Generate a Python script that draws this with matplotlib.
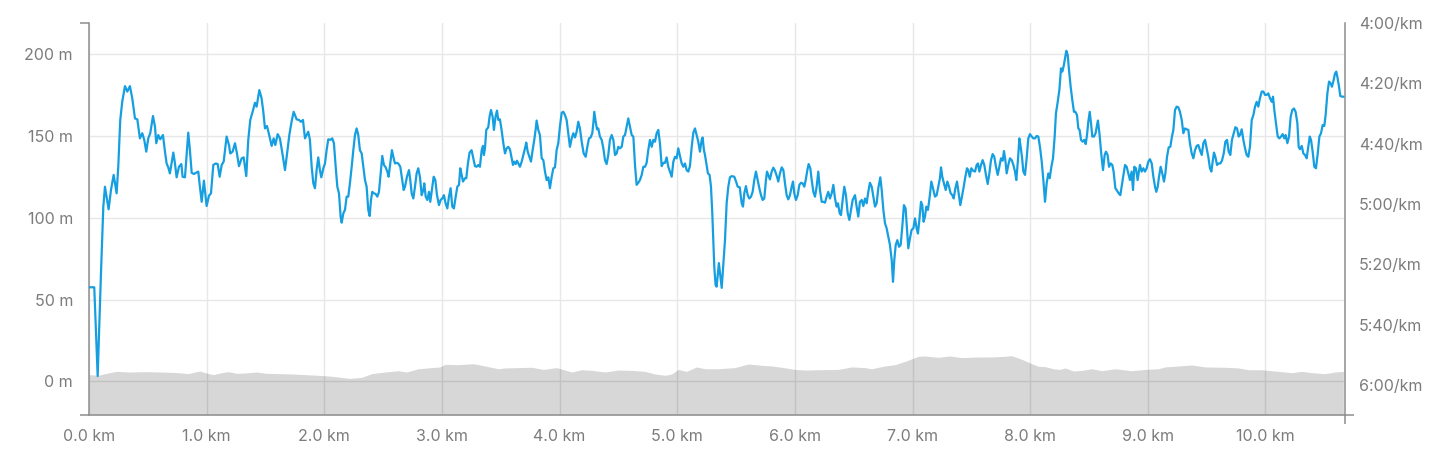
import numpy as np
import matplotlib
matplotlib.use("Agg")
import matplotlib.pyplot as plt
from matplotlib.ticker import FuncFormatter

plt.rcParams['font.family'] = ['Inter', 'DejaVu Sans']

# pace line: distance (m) and pace (seconds per km)
pace_dist = [
    0, 45, 74, 102, 122, 136, 150, 167, 187, 210, 235, 249, 266, 283, 306, 326, 348, 368, 391, 411,
    433, 453, 470, 487, 504, 521, 544, 561, 572, 589, 606, 629, 646, 660, 674, 688, 717, 731, 745, 765,
    785, 796, 816, 830, 844, 858, 873, 892, 909, 929, 943, 958, 977, 1000, 1020, 1037, 1057, 1077, 1094, 1111,
    1128, 1145, 1170, 1190, 1201, 1221, 1241, 1258, 1275, 1298, 1315, 1337, 1354, 1371, 1391, 1411, 1425, 1448, 1467, 1482,
    1496, 1513, 1530, 1553, 1570, 1584, 1604, 1623, 1643, 1666, 1686, 1703, 1722, 1740, 1765, 1785, 1802, 1819, 1836, 1850,
    1864, 1878, 1893, 1907, 1921, 1935, 1949, 1963, 1975, 1992, 2006, 2020, 2034, 2051, 2068, 2082, 2097, 2111, 2125, 2139,
    2148, 2162, 2176, 2190, 2204, 2218, 2233, 2247, 2261, 2275, 2289, 2303, 2318, 2332, 2346, 2360, 2374, 2386, 2397, 2408,
    2422, 2437, 2451, 2465, 2479, 2493, 2507, 2522, 2536, 2547, 2561, 2575, 2590, 2601, 2615, 2629, 2646, 2663, 2675, 2686,
    2703, 2720, 2731, 2743, 2757, 2771, 2785, 2799, 2813, 2828, 2842, 2850, 2862, 2876, 2890, 2901, 2915, 2930, 2944, 2958,
    2975, 2989, 3003, 3017, 3031, 3046, 3060, 3074, 3088, 3102, 3117, 3131, 3145, 3156, 3168, 3179, 3196, 3207, 3221, 3235,
    3252, 3267, 3281, 3295, 3309, 3323, 3338, 3349, 3357, 3366, 3377, 3394, 3405, 3417, 3431, 3442, 3456, 3468, 3479, 3493,
    3507, 3522, 3536, 3550, 3564, 3578, 3593, 3604, 3615, 3627, 3638, 3649, 3663, 3678, 3692, 3706, 3717, 3729, 3743, 3757,
    3771, 3785, 3797, 3805, 3819, 3833, 3848, 3862, 3876, 3890, 3904, 3918, 3933, 3947, 3961, 3975, 3989, 4003, 4018, 4032,
    4046, 4060, 4074, 4088, 4103, 4117, 4131, 4145, 4159, 4173, 4188, 4205, 4222, 4236, 4250, 4264, 4278, 4287, 4295, 4307,
    4318, 4329, 4343, 4358, 4372, 4386, 4400, 4414, 4428, 4443, 4457, 4471, 4485, 4499, 4513, 4528, 4542, 4556, 4570, 4584,
    4598, 4613, 4627, 4641, 4655, 4669, 4683, 4698, 4712, 4726, 4740, 4754, 4768, 4783, 4797, 4811, 4825, 4839, 4853, 4868,
    4882, 4896, 4910, 4924, 4938, 4953, 4967, 4981, 4995, 5009, 5023, 5038, 5052, 5066, 5080, 5094, 5108, 5123, 5137, 5151,
    5165, 5179, 5193, 5208, 5216, 5227, 5236, 5250, 5261, 5275, 5287, 5298, 5307, 5315, 5326, 5335, 5354, 5378, 5406, 5420,
    5434, 5448, 5463, 5485, 5500, 5514, 5531, 5548, 5559, 5570, 5584, 5599, 5613, 5627, 5641, 5655, 5669, 5684, 5698, 5712,
    5726, 5740, 5754, 5763, 5774, 5788, 5803, 5817, 5831, 5848, 5859, 5873, 5888, 5902, 5916, 5930, 5944, 5958, 5973, 5984,
    5995, 6009, 6024, 6038, 6052, 6066, 6080, 6092, 6106, 6117, 6131, 6143, 6157, 6171, 6185, 6199, 6213, 6228, 6242, 6256,
    6270, 6284, 6298, 6313, 6327, 6341, 6355, 6366, 6381, 6392, 6406, 6420, 6434, 6449, 6463, 6477, 6491, 6511, 6525, 6539,
    6553, 6568, 6582, 6596, 6610, 6624, 6638, 6653, 6667, 6681, 6695, 6709, 6726, 6738, 6752, 6766, 6780, 6794, 6808, 6823,
    6834, 6845, 6857, 6871, 6885, 6899, 6913, 6927, 6941, 6953, 6964, 6978, 6992, 7007, 7021, 7035, 7046, 7058, 7072, 7083,
    7094, 7106, 7117, 7131, 7146, 7160, 7174, 7191, 7205, 7219, 7233, 7242, 7253, 7267, 7282, 7296, 7310, 7324, 7338, 7350,
    7364, 7378, 7392, 7406, 7420, 7435, 7449, 7463, 7474, 7486, 7500, 7514, 7531, 7545, 7556, 7568, 7582, 7596, 7610, 7624,
    7639, 7653, 7667, 7681, 7695, 7709, 7724, 7738, 7752, 7766, 7777, 7789, 7800, 7814, 7828, 7843, 7857, 7871, 7882, 7896,
    7908, 7919, 7930, 7942, 7956, 7970, 7984, 7998, 8013, 8027, 8041, 8055, 8069, 8083, 8098, 8112, 8126, 8140, 8154, 8166,
    8180, 8194, 8208, 8219, 8234, 8248, 8262, 8273, 8285, 8296, 8307, 8319, 8330, 8344, 8358, 8372, 8384, 8398, 8409, 8420,
    8432, 8446, 8460, 8472, 8483, 8494, 8506, 8517, 8528, 8542, 8556, 8568, 8576, 8590, 8605, 8619, 8633, 8644, 8658, 8670,
    8684, 8698, 8709, 8724, 8738, 8752, 8766, 8777, 8792, 8806, 8820, 8834, 8848, 8862, 8874, 8885, 8899, 8913, 8933, 8948,
    8962, 8976, 8990, 9004, 9018, 9033, 9047, 9061, 9072, 9084, 9095, 9109, 9123, 9137, 9149, 9163, 9177, 9191, 9205, 9217,
    9231, 9245, 9259, 9273, 9288, 9302, 9316, 9330, 9344, 9358, 9373, 9387, 9401, 9415, 9429, 9443, 9458, 9472, 9486, 9500,
    9514, 9528, 9540, 9551, 9562, 9574, 9588, 9602, 9616, 9630, 9645, 9659, 9673, 9687, 9701, 9715, 9730, 9744, 9758, 9772,
    9783, 9798, 9812, 9826, 9840, 9854, 9868, 9883, 9897, 9911, 9925, 9939, 9953, 9968, 9982, 9996, 10010, 10024, 10038, 10053,
    10064, 10075, 10089, 10104, 10118, 10132, 10146, 10160, 10171, 10186, 10200, 10214, 10228, 10242, 10256, 10271, 10282, 10293, 10308, 10322,
    10336, 10350, 10364, 10376, 10387, 10401, 10415, 10429, 10444, 10458, 10472, 10486, 10500, 10511, 10526, 10540, 10554, 10565, 10579, 10591,
    10602, 10613, 10625, 10636, 10653, 10662,
]
pace_sec = [
    327.6, 327.6, 357.0, 323.0, 300.9, 294.3, 297.6, 301.8, 295.4, 290.4, 296.5, 287.7, 272.2, 266.1, 261.0, 262.8, 261.0, 265.0, 271.7, 272.0,
    278.3, 276.6, 278.8, 282.7, 278.3, 276.6, 270.9, 274.4, 279.9, 277.2, 278.6, 277.2, 282.7, 286.6, 287.9, 289.9, 283.0, 286.6, 291.2, 287.7,
    286.8, 291.0, 291.2, 283.8, 276.4, 282.2, 289.7, 290.1, 289.7, 289.3, 294.3, 299.3, 292.3, 300.7, 297.3, 296.5, 287.1, 286.6, 286.8, 291.0,
    287.1, 286.0, 277.7, 280.5, 283.3, 282.7, 279.9, 283.3, 287.5, 284.9, 284.6, 290.8, 278.8, 272.2, 269.5, 266.5, 267.8, 262.3, 265.0, 269.5,
    275.0, 274.2, 276.9, 280.8, 278.3, 280.5, 276.9, 278.3, 283.0, 288.8, 282.7, 277.2, 272.8, 269.5, 272.0, 272.2, 272.8, 272.2, 278.3, 277.2,
    276.1, 278.8, 287.7, 293.2, 294.8, 288.8, 284.6, 288.8, 291.2, 288.2, 286.6, 282.2, 278.6, 278.8, 278.3, 279.9, 287.7, 294.3, 296.5, 304.2,
    306.2, 303.1, 302.0, 297.6, 297.6, 293.2, 287.7, 282.2, 277.2, 275.0, 277.2, 282.2, 283.3, 287.7, 292.1, 294.3, 302.0, 304.0, 298.7, 296.0,
    296.5, 296.7, 297.6, 296.0, 289.9, 284.1, 287.1, 287.9, 289.3, 291.0, 286.6, 282.2, 284.9, 286.6, 286.4, 286.6, 287.7, 292.1, 295.4, 294.3,
    291.0, 288.8, 292.1, 296.5, 298.2, 294.3, 289.9, 288.2, 291.0, 297.1, 295.4, 293.2, 297.6, 298.7, 296.0, 299.3, 295.4, 291.0, 292.1, 297.1,
    300.4, 298.7, 298.2, 297.1, 299.8, 301.5, 297.6, 294.8, 300.9, 301.5, 297.6, 294.3, 293.7, 288.2, 290.4, 292.6, 291.5, 291.5, 286.6, 283.0,
    282.2, 284.9, 287.5, 287.7, 287.1, 287.7, 282.2, 280.8, 283.8, 281.6, 275.5, 274.6, 271.1, 268.9, 271.1, 275.5, 271.1, 269.1, 272.2, 272.0,
    275.5, 279.9, 283.3, 281.6, 281.1, 281.9, 284.9, 287.1, 286.0, 286.8, 285.7, 286.6, 287.7, 286.0, 283.8, 281.6, 279.7, 282.7, 284.4, 286.0,
    282.2, 278.8, 275.3, 272.4, 275.5, 277.2, 284.9, 285.5, 289.3, 292.1, 291.2, 294.8, 291.0, 288.2, 287.9, 282.2, 279.9, 274.4, 269.8, 269.5,
    270.6, 272.2, 276.6, 281.1, 278.3, 276.6, 278.0, 276.1, 272.8, 275.0, 279.4, 283.3, 284.4, 281.1, 278.3, 278.0, 276.6, 273.3, 269.5, 272.8,
    275.3, 275.0, 277.7, 278.8, 281.6, 285.5, 286.8, 283.8, 278.8, 277.2, 278.8, 283.8, 283.3, 281.1, 281.6, 281.1, 277.7, 277.2, 274.4, 271.7,
    274.4, 277.2, 277.7, 287.1, 293.7, 293.0, 292.1, 290.4, 287.7, 287.7, 286.4, 282.2, 278.8, 281.1, 278.8, 279.4, 276.6, 275.5, 279.9, 287.5,
    286.4, 286.4, 284.6, 287.7, 289.3, 291.0, 286.0, 284.4, 284.9, 281.6, 284.1, 286.6, 287.7, 286.6, 288.8, 289.3, 287.5, 281.1, 276.4, 275.0,
    277.2, 279.4, 282.7, 278.8, 278.0, 282.2, 283.8, 287.1, 289.9, 290.4, 294.3, 303.1, 312.0, 320.8, 326.9, 327.4, 319.6, 327.8, 312.0, 299.8,
    294.3, 291.2, 290.8, 291.0, 292.6, 294.3, 294.5, 299.8, 300.9, 296.5, 294.1, 297.1, 298.2, 297.6, 296.0, 292.1, 289.3, 292.1, 294.8, 297.1,
    298.7, 298.2, 292.1, 289.3, 290.4, 291.9, 289.3, 288.0, 289.0, 291.0, 292.6, 289.9, 287.9, 288.8, 293.2, 297.1, 298.5, 297.1, 294.3, 292.6,
    296.5, 298.7, 297.1, 293.7, 293.0, 293.2, 294.3, 292.1, 288.8, 286.8, 288.2, 292.1, 296.0, 297.6, 294.3, 289.3, 295.4, 299.3, 299.3, 299.6,
    297.6, 296.0, 298.2, 296.5, 293.7, 298.2, 300.9, 299.8, 303.1, 303.7, 298.7, 294.3, 297.1, 303.1, 305.3, 302.0, 298.7, 297.1, 300.9, 304.2,
    299.3, 298.7, 300.7, 298.2, 299.8, 296.0, 293.0, 294.3, 297.6, 300.9, 299.8, 294.8, 291.2, 295.4, 302.0, 306.4, 308.1, 310.8, 313.6, 318.6,
    325.8, 318.6, 313.6, 312.0, 314.2, 313.6, 307.5, 300.4, 301.5, 308.6, 314.7, 311.4, 308.6, 308.1, 304.8, 308.1, 309.8, 305.3, 299.3, 300.4,
    305.9, 304.2, 300.9, 302.0, 297.6, 292.6, 294.8, 297.6, 297.1, 294.3, 291.5, 287.9, 291.0, 293.2, 295.4, 292.6, 294.3, 296.5, 297.1, 298.2,
    294.8, 292.6, 296.5, 300.4, 297.6, 294.3, 291.0, 288.2, 288.8, 291.0, 288.2, 289.0, 289.3, 287.1, 286.6, 289.3, 287.1, 285.5, 287.1, 290.4,
    293.4, 289.9, 285.5, 283.5, 284.4, 287.7, 290.4, 287.7, 284.9, 285.7, 282.5, 285.5, 289.9, 287.1, 284.9, 285.5, 287.1, 289.3, 292.1, 285.5,
    278.3, 281.1, 284.4, 289.3, 290.4, 284.9, 278.3, 276.9, 277.7, 278.3, 278.3, 277.5, 277.7, 281.1, 286.0, 292.1, 299.3, 293.2, 289.9, 291.5,
    287.7, 284.9, 277.7, 270.0, 266.2, 262.3, 255.1, 256.2, 254.3, 251.8, 249.3, 250.7, 255.7, 261.2, 265.6, 269.5, 269.5, 270.6, 275.0, 275.5,
    278.8, 279.4, 278.8, 280.2, 277.2, 272.8, 269.5, 273.3, 277.7, 277.7, 276.6, 273.9, 272.4, 277.2, 283.8, 288.8, 283.8, 282.7, 283.8, 287.7,
    286.6, 287.1, 289.3, 294.8, 295.6, 296.5, 297.1, 294.3, 290.4, 287.1, 287.7, 289.9, 292.1, 289.3, 295.4, 287.7, 288.2, 292.1, 287.1, 289.3,
    288.2, 289.3, 288.2, 286.0, 285.2, 286.6, 291.0, 294.3, 296.0, 294.3, 291.0, 287.7, 289.9, 292.6, 289.9, 284.4, 281.3, 281.1, 277.7, 275.5,
    268.9, 267.8, 268.0, 269.5, 272.2, 276.6, 275.0, 275.3, 275.5, 279.9, 283.3, 284.9, 282.2, 280.8, 280.5, 282.2, 283.8, 279.9, 278.8, 281.6,
    284.4, 288.2, 289.3, 286.0, 283.0, 284.4, 287.1, 286.6, 286.6, 285.7, 283.3, 279.4, 278.8, 282.7, 283.8, 278.8, 276.6, 274.6, 275.0, 277.7,
    277.2, 275.3, 278.8, 281.6, 283.8, 284.4, 281.1, 272.2, 270.6, 267.8, 266.2, 267.8, 265.0, 262.8, 262.8, 263.9, 263.9, 263.4, 265.0, 266.2,
    264.5, 268.9, 273.3, 277.7, 278.3, 277.7, 276.9, 278.3, 277.2, 279.9, 277.7, 271.1, 268.9, 268.4, 269.5, 273.3, 281.1, 281.9, 280.8, 283.3,
    283.8, 284.9, 281.1, 277.7, 278.8, 282.7, 287.7, 288.2, 283.3, 277.7, 276.6, 273.9, 274.2, 270.6, 263.4, 259.5, 260.1, 261.2, 259.0, 256.8,
    256.2, 258.4, 261.2, 264.3, 264.5, 264.5,
]

# elevation profile: distance (m) and altitude (m)
elev_dist = [
    0, 79, 136, 235, 334, 476, 618, 759, 844, 901, 943, 986, 1057, 1128, 1184, 1255, 1326, 1425, 1510, 1609,
    1723, 1836, 1949, 2062, 2147, 2218, 2317, 2402, 2516, 2629, 2700, 2799, 2913, 2983, 3026, 3139, 3267, 3366, 3479, 3536,
    3649, 3763, 3862, 3975, 4103, 4188, 4273, 4386, 4499, 4613, 4726, 4811, 4896, 4953, 5009, 5080, 5165, 5236, 5349, 5491,
    5604, 5717, 5802, 5887, 6001, 6086, 6199, 6369, 6482, 6596, 6652, 6766, 6851, 6936, 7049, 7106, 7219, 7318, 7418, 7559,
    7673, 7786, 7843, 7928, 8013, 8069, 8126, 8197, 8253, 8296, 8367, 8438, 8523, 8608, 8721, 8862, 8976, 9089, 9146, 9259,
    9372, 9486, 9656, 9769, 9854, 9967, 10109, 10222, 10307, 10392, 10505, 10591, 10662,
]
elev_m = [
    4.1, 3.7, 4.7, 6.1, 5.7, 5.9, 5.7, 5.3, 4.7, 5.7, 6.3, 5.3, 4.1, 5.3, 5.9, 4.9, 5.1, 5.7, 4.9, 4.7,
    4.5, 4.1, 3.7, 3.1, 2.4, 1.8, 2.4, 4.7, 5.7, 6.5, 5.7, 7.7, 8.4, 8.8, 10.4, 10.2, 10.8, 9.4, 7.7, 8.2,
    8.4, 8.6, 7.3, 8.4, 5.7, 7.1, 6.7, 5.7, 6.9, 6.7, 6.1, 4.5, 3.7, 4.5, 7.3, 6.1, 8.8, 7.7, 7.7, 8.4,
    10.6, 9.8, 9.4, 8.6, 7.3, 6.9, 7.1, 7.3, 8.8, 8.4, 7.7, 9.4, 10.2, 12.2, 15.3, 15.5, 14.7, 15.5, 14.5, 14.9,
    14.9, 15.3, 15.7, 13.5, 10.8, 9.2, 9.0, 7.7, 7.3, 8.2, 6.3, 6.7, 7.7, 6.5, 7.7, 6.5, 7.3, 7.7, 8.8, 9.4,
    10.0, 8.8, 8.6, 8.2, 7.1, 7.1, 6.1, 5.3, 6.1, 5.3, 4.7, 5.7, 6.1,
]

km_ticks = list(range(11))
elev_ticks = [0, 50, 100, 150, 200]
pace_ticks = [240, 260, 280, 300, 320, 340, 360]

pace_km = np.array(pace_dist) / 1000.0
elev_km = np.array(elev_dist) / 1000.0

text_col = '#7c7c7c'
axis_col = '#8e8e8e'
grid_col = '#e7e7e7'
line_col = '#169fe0'

x_max = 10.675
elev_lo, elev_hi = -20.6, 219.3
pace_lo, pace_hi = 369.9, 240

fig = plt.figure(figsize=(14.56, 4.68), dpi=100)
ax = fig.add_axes([0.0611, 0.1132, 0.8626, 0.8383])
ax2 = ax.twinx()

# elevation area
ax.fill_between(elev_km, elev_m, elev_lo, color='black', alpha=0.155, lw=0, zorder=2)

ax.set_xlim(0, x_max)
ax.set_ylim(elev_lo, elev_hi)
ax.set_xticks(km_ticks)
ax.set_yticks(elev_ticks)
ax.xaxis.set_major_formatter(FuncFormatter(lambda v, p: '%.1f km' % v))
ax.yaxis.set_major_formatter(FuncFormatter(lambda v, p: '%d m' % v))
ax.grid(True, color=grid_col, lw=1.0, zorder=0)
ax.set_axisbelow(True)

# pace line
ax2.plot(pace_km, pace_sec, color=line_col, lw=1.6, solid_joinstyle='round', zorder=3)
ax2.set_ylim(pace_lo, pace_hi)
ax2.set_yticks(pace_ticks)
ax2.yaxis.set_major_formatter(FuncFormatter(lambda v, p: '%d:%02d/km' % (int(v) // 60, int(v) % 60)))
ax2.set_xlim(0, x_max)

for s in ['top', 'right']:
    ax.spines[s].set_visible(False)
for s in ['top', 'left', 'bottom']:
    ax2.spines[s].set_visible(False)
for sp in [ax.spines['left'], ax.spines['bottom'], ax2.spines['right']]:
    sp.set_color(axis_col)
    sp.set_linewidth(1.1)

# end ticks on the axis lines only
ax.set_xticks([0, x_max], minor=True)
ax.set_yticks([elev_lo, elev_hi], minor=True)
ax2.set_yticks([pace_lo, pace_hi], minor=True)
for a in [ax, ax2]:
    a.tick_params(which='minor', length=6.5, width=1.1, color=axis_col, labelbottom=False,
                  labelleft=False, labelright=False)
ax.tick_params(which='major', length=0, labelsize=11.5, labelcolor=text_col)
ax.tick_params(axis='y', which='major', pad=11.5)
ax.tick_params(axis='x', which='major', pad=10)
ax2.tick_params(which='major', length=0, labelsize=11.5, labelcolor=text_col, pad=10)

fig.savefig('out.png', dpi=100)
